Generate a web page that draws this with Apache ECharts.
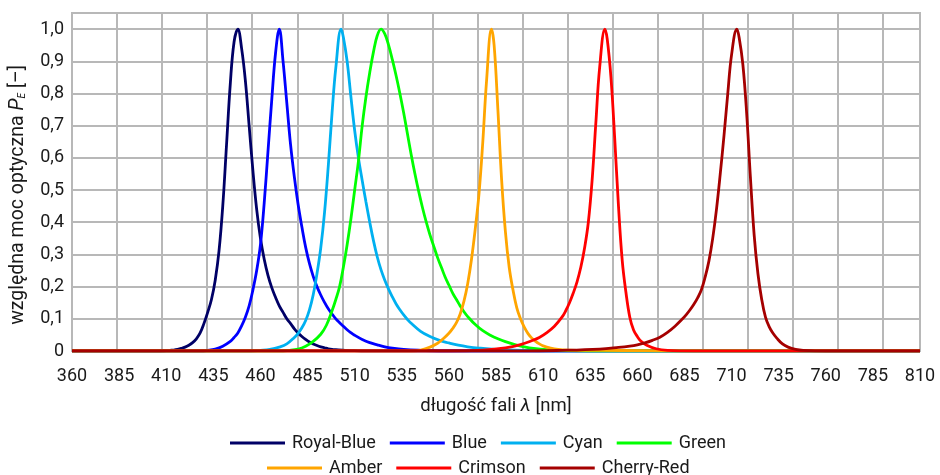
<!DOCTYPE html>
<html>
<head>
<meta charset="utf-8">
<script src="https://cdn.jsdelivr.net/npm/echarts@6/dist/echarts.min.js"></script>
<style>html,body{margin:0;padding:0;background:#fff}#c{width:940px;height:475px}</style>
</head>
<body>
<div id="c"></div>
<script>
// ---- data (wavelength [nm] / relative optical power) ----
const seriesNames = ['Royal-Blue', 'Blue', 'Cyan', 'Green', 'Amber', 'Crimson', 'Cherry-Red'];
const seriesColors = ['#000066', '#0000ff', '#00b0f0', '#00ff00', '#ffa500', '#ff0000', '#a50000'];

const royalBlueNm  = [360, 405, 410, 412, 414, 416, 418, 420, 422, 424, 426, 428, 430, 432, 434, 436, 438, 440, 442, 444, 446, 448, 450, 452, 454, 456, 458, 460, 462, 464, 466, 468, 470, 472, 474, 476, 478, 480, 482, 484, 486, 488, 490, 492, 494, 496, 498, 500, 505, 510, 515, 810];
const royalBlueVal = [0, 0, 0.001, 0.002, 0.003, 0.005, 0.008, 0.012, 0.018, 0.026, 0.038, 0.056, 0.085, 0.12, 0.16, 0.22, 0.31, 0.45, 0.64, 0.83, 0.96, 1.0, 0.94, 0.84, 0.7, 0.56, 0.44, 0.35, 0.285, 0.235, 0.197, 0.167, 0.14, 0.12, 0.1, 0.085, 0.069, 0.056, 0.045, 0.036, 0.028, 0.022, 0.017, 0.013, 0.01, 0.007, 0.005, 0.004, 0.002, 0.001, 0, 0];

const blueNm  = [360, 428, 432, 436, 440, 444, 446, 448, 450, 452, 454, 456, 458, 460, 462, 464, 466, 468, 470, 472, 474, 476, 478, 480, 482, 484, 486, 488, 490, 492, 494, 496, 498, 500, 502, 504, 506, 508, 510, 514, 518, 522, 526, 530, 536, 545, 555, 810];
const blueVal = [0, 0, 0.002, 0.006, 0.015, 0.03, 0.042, 0.056, 0.078, 0.105, 0.14, 0.19, 0.25, 0.33, 0.46, 0.62, 0.78, 0.925, 1.0, 0.9, 0.77, 0.64, 0.54, 0.455, 0.385, 0.322, 0.272, 0.232, 0.2, 0.174, 0.151, 0.131, 0.115, 0.1, 0.088, 0.077, 0.066, 0.057, 0.049, 0.036, 0.026, 0.019, 0.013, 0.009, 0.005, 0.002, 0, 0];

const cyanNm  = [360, 455, 460, 465, 470, 474, 478, 480, 482, 484, 486, 488, 490, 492, 494, 496, 498, 500, 502.8, 504, 506, 508, 510, 512, 514, 516, 518, 520, 522, 524, 526, 528, 530, 532, 534, 536, 538, 540, 545, 550, 555, 560, 565, 570, 576, 585, 600, 620, 810];
const cyanVal = [0, 0, 0.002, 0.005, 0.012, 0.022, 0.042, 0.055, 0.072, 0.095, 0.128, 0.175, 0.24, 0.32, 0.43, 0.575, 0.74, 0.88, 1.0, 0.975, 0.9, 0.79, 0.685, 0.6, 0.53, 0.463, 0.4, 0.342, 0.292, 0.252, 0.22, 0.192, 0.168, 0.146, 0.128, 0.112, 0.098, 0.086, 0.061, 0.045, 0.033, 0.025, 0.018, 0.013, 0.009, 0.005, 0.002, 0, 0];

const greenNm  = [360, 470, 475, 480, 484, 488, 492, 495, 498, 500, 502, 504, 506, 508, 510, 512, 514, 516, 518, 520, 522, 524, 526, 528, 530, 532, 534, 536, 538, 540, 542, 544, 546, 548, 550, 552, 554, 556, 558, 560, 562, 564, 566, 568, 570, 574, 578, 582, 586, 590, 595, 600, 605, 612, 620, 640, 810];
const greenVal = [0, 0, 0.002, 0.006, 0.015, 0.03, 0.052, 0.08, 0.125, 0.16, 0.2, 0.26, 0.33, 0.41, 0.5, 0.59, 0.7, 0.79, 0.865, 0.93, 0.98, 1.0, 0.985, 0.95, 0.905, 0.855, 0.8, 0.74, 0.675, 0.61, 0.55, 0.495, 0.445, 0.4, 0.36, 0.325, 0.29, 0.26, 0.23, 0.205, 0.18, 0.16, 0.14, 0.122, 0.107, 0.082, 0.063, 0.049, 0.038, 0.029, 0.02, 0.013, 0.008, 0.004, 0.002, 0, 0];

const amberNm  = [360, 540, 545, 550, 554, 557, 560, 562, 564, 566, 568, 570, 572, 574, 576, 578, 580, 582.6, 584, 586, 588, 590, 592, 594, 596, 598, 600, 602, 604, 606, 608, 610, 614, 618, 623, 640, 665, 680, 810];
const amberVal = [0, 0, 0.003, 0.012, 0.024, 0.038, 0.055, 0.07, 0.088, 0.115, 0.155, 0.21, 0.285, 0.38, 0.49, 0.65, 0.84, 1.0, 0.95, 0.75, 0.53, 0.37, 0.26, 0.19, 0.135, 0.1, 0.074, 0.054, 0.04, 0.03, 0.022, 0.016, 0.009, 0.005, 0.003, 0.002, 0.001, 0, 0];

const crimsonNm  = [360, 560, 578, 590, 598, 604, 608, 612, 616, 620, 622, 624, 626, 628, 630, 632, 634, 636, 638, 640, 642.8, 644, 646, 648, 650, 652, 654, 656, 658, 660, 662, 665, 670, 676, 690, 810];
const crimsonVal = [0, 0, 0.003, 0.01, 0.02, 0.032, 0.042, 0.057, 0.077, 0.105, 0.125, 0.15, 0.18, 0.215, 0.26, 0.32, 0.4, 0.53, 0.71, 0.88, 1.0, 0.97, 0.85, 0.66, 0.45, 0.28, 0.18, 0.105, 0.065, 0.045, 0.03, 0.018, 0.007, 0.002, 0, 0];

const cherryRedNm  = [360, 600, 620, 640, 650, 656, 660, 664, 668, 672, 676, 680, 684, 686, 688, 690, 692, 694, 696, 698, 700, 702, 704, 706, 708, 710, 712.8, 714, 716, 718, 720, 722, 724, 726, 728, 730, 732, 734, 737, 740, 744, 748, 760, 810];
const cherryRedVal = [0, 0, 0.002, 0.006, 0.011, 0.015, 0.019, 0.025, 0.033, 0.043, 0.058, 0.077, 0.1, 0.113, 0.128, 0.145, 0.165, 0.19, 0.23, 0.28, 0.35, 0.44, 0.55, 0.67, 0.8, 0.92, 1.0, 0.975, 0.89, 0.74, 0.54, 0.36, 0.24, 0.16, 0.105, 0.075, 0.055, 0.04, 0.022, 0.012, 0.005, 0.002, 0, 0];

const seriesNm  = [royalBlueNm, blueNm, cyanNm, greenNm, amberNm, crimsonNm, cherryRedNm];
const seriesVal = [royalBlueVal, blueVal, cyanVal, greenVal, amberVal, crimsonVal, cherryRedVal];

const xMin = 360, xMax = 810, xStep = 25;
const yMin = 0, yMax = 1.05, yStep = 0.1;
const legendRow1 = ['Royal-Blue', 'Blue', 'Cyan', 'Green'];
const legendRow2 = ['Amber', 'Crimson', 'Cherry-Red'];

// ---- chart ----
const FONT = 'Roboto';
const TXT = '#1a1a1a';
const GRID = '#b8b8b8';
const chart = echarts.init(document.getElementById('c'), null, {renderer: 'canvas'});

const series = seriesNames.map((name, i) => ({
  name: name,
  type: 'line',
  xAxisIndex: 0,
  yAxisIndex: 0,
  data: seriesNm[i].map((x, j) => [x, seriesVal[i][j]]),
  smooth: 0.4,
  symbol: 'none',
  showSymbol: false,
  animation: false,
  lineStyle: {color: seriesColors[i], width: 2.8},
  itemStyle: {color: seriesColors[i]}
}));

const legendCommon = {
  orient: 'horizontal',
  padding: 0,
  itemWidth: 55,
  itemHeight: 12,
  itemGap: 14,
  icon: 'path://M0,5 L55,5 L55,8 L0,8 Z',
  textStyle: {fontFamily: FONT, fontSize: 18, color: TXT, padding: [0, 0, 0, 2]}
};

const option = {
  backgroundColor: '#ffffff',
  animation: false,
  grid: {left: 72, right: 20, top: 13, bottom: 124, show: true, borderColor: GRID, borderWidth: 2, containLabel: false},
  legend: [
    Object.assign({}, legendCommon, {data: legendRow1, left: 230, top: 434}),
    Object.assign({}, legendCommon, {data: legendRow2, left: 267, top: 459})
  ],
  xAxis: [
    {
      type: 'value', min: xMin, max: xMax, interval: xStep, position: 'bottom',
      axisLine: {show: false}, axisTick: {show: false}, splitLine: {show: false},
      axisLabel: {fontFamily: FONT, fontSize: 18, color: TXT, margin: 16},
      name: '{a|długość fali }{i|λ}{a| [nm]}',
      nameLocation: 'middle', nameGap: 46,
      nameTextStyle: {
        rich: {
          a: {fontFamily: FONT, fontSize: 18.5, color: TXT},
          i: {fontFamily: FONT, fontSize: 18.5, color: TXT, fontStyle: 'italic'}
        }
      }
    },
    {
      type: 'value', min: 0, max: 847 / 45, interval: 1, position: 'top',
      axisLine: {show: false}, axisTick: {show: false}, axisLabel: {show: false},
      splitLine: {show: true, lineStyle: {color: GRID, width: 2}}
    }
  ],
  yAxis: {
    type: 'value', min: yMin, max: yMax, interval: yStep,
    axisLine: {show: false}, axisTick: {show: false},
    splitLine: {show: true, lineStyle: {color: GRID, width: 2}},
    axisLabel: {
      fontFamily: FONT, fontSize: 18, color: TXT, margin: 8,
      formatter: function (v) {
        const t = Math.round(v * 10);
        if (Math.abs(v * 10 - t) > 1e-6) return '';
        if (t === 0) return '0';
        return (t / 10).toFixed(1).replace('.', ',');
      }
    },
    name: '{a|względna moc optyczna }{i|P}{s|E}{a| [–]}',
    nameLocation: 'middle', nameGap: 44, nameRotate: 90,
    nameTextStyle: {
      padding: [0, 26, 0, 0],
      rich: {
        a: {fontFamily: FONT, fontSize: 19.5, color: TXT},
        i: {fontFamily: FONT, fontSize: 19.5, color: TXT, fontStyle: 'italic'},
        s: {fontFamily: FONT, fontSize: 10, color: TXT, fontStyle: 'italic', padding: [9, 0, 0, 0]}
      }
    }
  },
  series: series
};
chart.setOption(option);
</script>
</body>
</html>
